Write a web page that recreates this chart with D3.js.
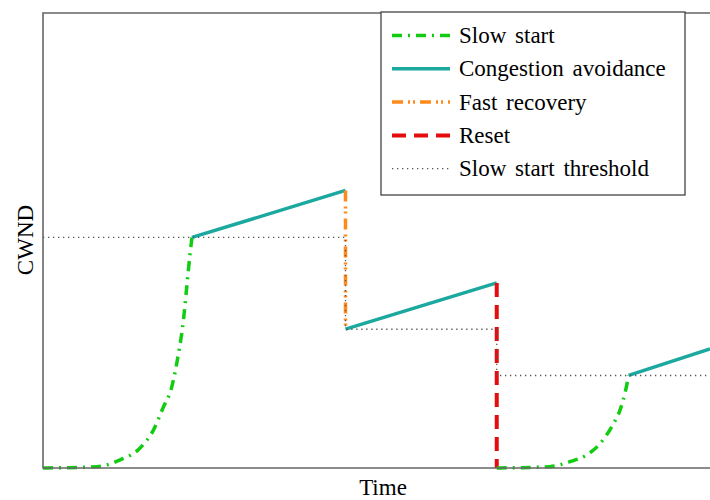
<!DOCTYPE html>
<html>
<head>
<meta charset="utf-8">
<script src="https://cdn.jsdelivr.net/npm/d3@7.9.0/dist/d3.min.js"></script>
<style>
  body { margin: 0; background: #fff; }
  text { font-family: "Liberation Serif", "DejaVu Serif", serif; fill: #000; }
</style>
</head>
<body>
<svg id="chart" width="710" height="500"></svg>
<script>
// phases of the cwnd trace, [time, cwnd]
const slowStart1 = [[0, 0], [3.55, 0.09], [5.1, 0.53], [6.4, 1.3], [7.3, 2.5], [7.95, 4.0],
  [8.5, 5.3], [8.95, 7.5], [9.28, 9.7], [9.5, 11.9], [9.72, 14.1], [9.85, 15.2]];
const congAvoid1 = [[9.85, 15.2], [20, 18.3]];
const fastRecovery = [[20, 18.3], [20, 9.15]];
const congAvoid2 = [[20, 9.15], [30, 12.2]];
const reset = [[30, 12.2], [30, 0]];
const slowStart2 = [[30, 0], [33.5, 0.09], [34.85, 0.42], [35.95, 0.86], [36.85, 1.63],
  [37.6, 2.72], [38.15, 3.82], [38.5, 5.03], [38.72, 6.1]];
const congAvoid3 = [[38.72, 6.1], [44.1, 7.85]];
const threshold = [[0, 15.2], [20, 15.2], [20, 9.15], [30, 9.15], [30, 6.1], [44.1, 6.1]];

const legendLabels = ['Slow start', 'Congestion avoidance', 'Fast recovery', 'Reset', 'Slow start threshold'];

const styles = {
  slow:  { color: '#12cc12', width: 3.5, dash: '10,6,2,6' },
  ca:    { color: '#1ba89f', width: 3.4, dash: null },
  fr:    { color: '#ff8a1c', width: 3.5, dash: '11,5,2,3,2,5' },
  reset: { color: '#e30d0d', width: 4, dash: '14,8' },
  ssth:  { color: '#555', width: 1.3, dash: '1.3,3.7' }
};

const svg = d3.select('#chart');
const mLeft = 43, mTop = 13, mBottom = 468, mRight = 710;

const x = d3.scaleLinear().domain([0, 44.1]).range([mLeft, mRight]);
const y = d3.scaleLinear().domain([0, 30]).range([mBottom, mTop]);

const line = d3.line().x(d => x(d[0])).y(d => y(d[1]));
const curve = d3.line().x(d => x(d[0])).y(d => y(d[1])).curve(d3.curveMonotoneX);

function draw(data, st, gen) {
  svg.append('path')
    .attr('d', (gen || line)(data))
    .attr('fill', 'none')
    .attr('stroke', st.color)
    .attr('stroke-width', st.width)
    .attr('stroke-dasharray', st.dash);
}

draw(slowStart1, styles.slow, curve);
draw(congAvoid1, styles.ca);
draw(fastRecovery, styles.fr);
draw(congAvoid2, styles.ca);
draw(reset, styles.reset);
draw(slowStart2, styles.slow, curve);
draw(congAvoid3, styles.ca);
draw(threshold, styles.ssth);

// axis frame (right side runs off the picture)
svg.append('path')
  .attr('d', `M${mRight + 2},${mTop}H${mLeft}V${mBottom}H${mRight + 2}`)
  .attr('fill', 'none')
  .attr('stroke', '#666')
  .attr('stroke-width', 1.6);

svg.append('text')
  .attr('x', 383).attr('y', 495)
  .attr('text-anchor', 'middle')
  .attr('font-size', 23)
  .text('Time');

svg.append('text')
  .attr('transform', 'translate(33,240) rotate(-90)')
  .attr('text-anchor', 'middle')
  .attr('font-size', 23)
  .text('CWND');

// legend
const lg = svg.append('g');
lg.append('rect')
  .attr('x', 381).attr('y', 12)
  .attr('width', 304).attr('height', 183)
  .attr('fill', '#fff')
  .attr('stroke', '#444')
  .attr('stroke-width', 1.3);

const legendStyles = [styles.slow, styles.ca, styles.fr, styles.reset, styles.ssth];
legendLabels.forEach((label, i) => {
  const base = 43 + i * 33.3;
  const st = legendStyles[i];
  lg.append('line')
    .attr('x1', 392).attr('x2', 450)
    .attr('y1', base - 7.5).attr('y2', base - 7.5)
    .attr('stroke', st.color)
    .attr('stroke-width', st.width)
    .attr('stroke-dasharray', st.dash);
  lg.append('text')
    .attr('x', 459).attr('y', base)
    .attr('font-size', 23)
    .attr('word-spacing', 3)
    .text(label);
});
</script>
</body>
</html>
